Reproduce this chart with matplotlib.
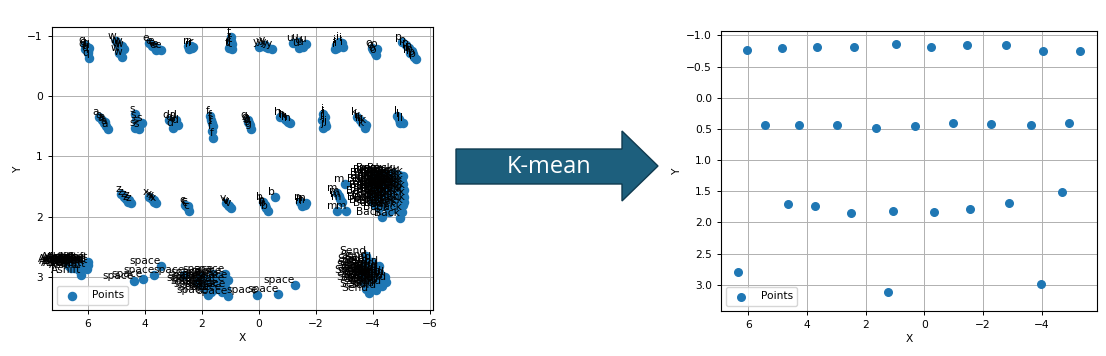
import matplotlib
matplotlib.use("Agg")
import matplotlib.pyplot as plt
from matplotlib.patches import Polygon

# ---------------- raw keystroke points (left panel) ----------------
top_row_points = [
    ("q", 6.1, -0.85), ("q", 6.05, -0.82), ("q", 5.95, -0.80), ("q", 6.0, -0.72), ("q", 5.95, -0.64), ("q", 6.1, -0.78), ("q", 6.0, -0.75),
    ("w", 5.0, -0.92), ("w", 4.95, -0.85), ("w", 4.85, -0.80), ("w", 4.9, -0.72), ("w", 4.8, -0.65), ("w", 4.8, -0.83), ("w", 4.75, -0.78),
    ("e", 3.85, -0.88), ("e", 3.75, -0.84), ("e", 3.65, -0.80), ("e", 3.55, -0.78), ("e", 3.45, -0.77), ("e", 3.7, -0.83), ("e", 3.6, -0.77),
    ("r", 2.5, -0.84), ("r", 2.4, -0.83), ("r", 2.35, -0.80), ("r", 2.3, -0.82), ("r", 2.45, -0.79),
    ("t", 1.0, -0.98), ("t", 0.98, -0.92), ("t", 0.95, -0.86), ("t", 1.02, -0.82), ("t", 0.95, -0.78), ("t", 1.05, -0.80),
    ("y", 0.0, -0.82), ("y", -0.1, -0.84), ("y", -0.2, -0.85), ("y", -0.3, -0.80), ("y", -0.45, -0.79), ("y", -0.25, -0.82),
    ("u", -1.2, -0.88), ("u", -1.35, -0.90), ("u", -1.45, -0.85), ("u", -1.55, -0.82), ("u", -1.65, -0.87), ("u", -1.4, -0.80),
    ("i", -2.65, -0.78), ("i", -2.7, -0.85), ("i", -2.8, -0.90), ("i", -2.9, -0.88), ("i", -2.95, -0.82), ("i", -2.75, -0.80),
    ("o", -3.95, -0.80), ("o", -4.0, -0.76), ("o", -4.05, -0.72), ("o", -4.1, -0.68), ("o", -4.15, -0.78),
    ("p", -5.0, -0.90), ("p", -5.15, -0.85), ("p", -5.25, -0.80), ("p", -5.35, -0.75), ("p", -5.4, -0.70), ("p", -5.5, -0.62), ("p", -5.45, -0.66), ("p", -5.3, -0.72),
]

home_row_points = [
    ("a", 5.6, 0.35), ("a", 5.5, 0.40), ("a", 5.45, 0.45), ("a", 5.35, 0.50), ("a", 5.3, 0.55), ("a", 5.4, 0.42),
    ("s", 4.35, 0.30), ("s", 4.3, 0.40), ("s", 4.25, 0.48), ("s", 4.35, 0.52), ("s", 4.1, 0.45), ("s", 4.2, 0.55),
    ("d", 3.15, 0.40), ("d", 3.05, 0.42), ("d", 2.95, 0.45), ("d", 2.85, 0.48), ("d", 3.0, 0.52), ("d", 2.9, 0.40),
    ("f", 1.72, 0.32), ("f", 1.68, 0.40), ("f", 1.65, 0.45), ("f", 1.62, 0.50), ("f", 1.65, 0.58), ("f", 1.6, 0.70),
    ("g", 0.4, 0.40), ("g", 0.35, 0.45), ("g", 0.3, 0.48), ("g", 0.28, 0.55), ("g", 0.38, 0.42),
    ("h", -0.75, 0.35), ("h", -0.9, 0.38), ("h", -1.0, 0.42), ("h", -1.1, 0.45), ("h", -0.95, 0.40),
    ("j", -2.25, 0.30), ("j", -2.3, 0.35), ("j", -2.2, 0.40), ("j", -2.3, 0.45), ("j", -2.25, 0.52), ("j", -2.35, 0.50),
    ("k", -3.45, 0.35), ("k", -3.55, 0.40), ("k", -3.65, 0.45), ("k", -3.75, 0.48), ("k", -3.7, 0.52), ("k", -3.6, 0.44),
    ("l", -4.85, 0.33), ("l", -4.9, 0.38), ("l", -4.95, 0.42), ("l", -5.05, 0.45), ("l", -4.95, 0.45),
]

bottom_row_points = [
    ("z", 4.85, 1.63), ("z", 4.75, 1.67), ("z", 4.65, 1.70), ("z", 4.55, 1.72), ("z", 4.5, 1.78), ("z", 4.6, 1.75),
    ("x", 3.85, 1.68), ("x", 3.75, 1.70), ("x", 3.7, 1.75), ("x", 3.6, 1.78), ("x", 3.7, 1.72),
    ("c", 2.6, 1.80), ("c", 2.55, 1.83), ("c", 2.5, 1.86), ("c", 2.45, 1.90), ("c", 2.5, 1.82),
    ("v", 1.15, 1.78), ("v", 1.1, 1.80), ("v", 1.05, 1.83), ("v", 1.0, 1.86), ("v", 1.05, 1.82),
    ("b", -0.15, 1.75), ("b", -0.2, 1.80), ("b", -0.25, 1.85), ("b", -0.3, 1.90), ("b", -0.55, 1.68), ("b", -0.2, 1.82),
    ("n", -1.45, 1.75), ("n", -1.55, 1.78), ("n", -1.6, 1.80), ("n", -1.5, 1.82), ("n", -1.65, 1.78),
    ("m", -3.0, 1.45), ("m", -2.75, 1.60), ("m", -2.8, 1.65), ("m", -2.85, 1.70), ("m", -2.75, 1.90), ("m", -3.05, 1.90), ("m", -2.9, 1.75),
]

back_x = [-4.0, -4.1, -4.2, -4.3, -4.4, -4.5, -4.6, -4.7, -4.8, -4.9, -5.0, -5.05,
          -4.05, -4.15, -4.25, -4.35, -4.45, -4.55, -4.65, -4.75, -4.85, -4.95, -5.1,
          -3.95, -4.1, -4.2, -4.3, -4.4, -4.5, -4.6, -4.7, -4.8, -4.9, -5.0, -5.1,
          -4.0, -4.15, -4.3, -4.45, -4.6, -4.75, -4.9, -5.05,
          -4.2, -4.4, -4.6, -4.8, -5.0, -4.3, -4.95,
          -4.85, -4.95, -5.0, -4.9, -5.05, -4.7, -4.8,
          -4.25, -4.45, -4.65, -4.85, -5.05, -4.35, -4.55, -4.75, -4.95, -4.1,
          -4.3, -4.5, -4.7, -4.9, -4.05, -4.25, -4.65, -4.85, -5.1, -4.55]
back_y = [1.45, 1.35, 1.30, 1.28, 1.30, 1.32, 1.30, 1.28, 1.30, 1.35, 1.40, 1.45,
          1.55, 1.50, 1.45, 1.42, 1.45, 1.40, 1.42, 1.45, 1.42, 1.50, 1.55,
          1.65, 1.62, 1.60, 1.58, 1.55, 1.52, 1.55, 1.58, 1.55, 1.60, 1.62, 1.68,
          1.75, 1.72, 1.70, 1.68, 1.70, 1.72, 1.75, 1.80,
          1.85, 1.82, 1.85, 1.88, 1.92, 2.00, 2.02,
          1.38, 1.45, 1.52, 1.30, 1.62, 1.48, 1.50,
          1.36, 1.37, 1.35, 1.47, 1.33, 1.50, 1.48, 1.52, 1.57, 1.40,
          1.64, 1.62, 1.66, 1.68, 1.80, 1.78, 1.78, 1.82, 1.75, 1.92]

send_x = [-3.75, -3.8, -3.7, -3.85, -3.95, -4.05, -3.65, -3.75, -3.9, -4.0, -4.1, -4.2,
          -3.6, -3.7, -3.85, -3.95, -4.05, -4.15, -4.25, -4.35, -4.45, -3.65, -3.8, -3.9,
          -4.0, -4.1, -4.2, -4.3, -3.75, -4.1, -3.85, -4.2, -3.95,
          -3.7, -3.8, -4.0, -4.15, -4.3, -3.9, -4.05, -4.2, -4.4]
send_y = [2.65, 2.72, 2.78, 2.80, 2.82, 2.85, 2.88, 2.90, 2.92, 2.95, 2.95, 2.92,
          2.97, 3.00, 3.00, 3.02, 3.05, 3.00, 3.02, 3.05, 3.08, 3.08, 3.10, 3.12,
          3.10, 3.15, 3.12, 3.15, 3.20, 3.22, 3.27, 2.82, 2.75,
          2.85, 2.95, 3.00, 2.88, 2.98, 3.05, 3.18, 3.05, 3.00]

shift_x = [6.6, 6.55, 6.5, 6.45, 6.4, 6.35, 6.3, 6.25, 6.2, 6.15, 6.1, 6.05, 6.0,
           6.05, 6.25, 6.5, 6.6, 6.4, 6.3, 6.0, 6.7, 6.65]
shift_y = [2.75, 2.78, 2.80, 2.77, 2.82, 2.75, 2.80, 2.78, 2.85, 2.80, 2.82, 2.78, 2.80,
           2.87, 2.97, 2.85, 2.85, 2.75, 2.88, 2.75, 2.78, 2.82]

space_x = [3.43, 3.67, 4.08, 4.39, 2.62,
           2.1, 2.0, 1.9, 1.8, 1.7, 1.6, 1.5, 1.4, 1.3, 1.2, 1.15, 1.1, 1.2, 1.7, 1.9,
           2.0, 1.8, 1.5, 1.1, 1.6, 1.4, 1.3, 2.15,
           0.06, -0.68, -1.26]
space_y = [2.82, 2.97, 3.04, 3.07, 2.97,
           3.05, 3.00, 3.10, 3.05, 3.15, 3.00, 3.10, 3.05, 2.98, 3.10, 3.20, 3.05, 2.95, 3.25, 3.20,
           3.15, 3.30, 3.20, 3.32, 2.95, 3.18, 3.25, 3.10,
           3.30, 3.29, 3.13]

# ---------------- K-means centroids (right panel) ----------------
centroid_x = [6.03, 4.86, 3.66, 2.40, 0.98, -0.24, -1.45, -2.80, -4.05, -5.31,
              5.43, 4.28, 2.99, 1.66, 0.33, -0.99, -2.28, -3.63, -4.94,
              6.35, 4.65, 3.72, 2.51, 1.06, -0.34, -1.56, -2.88, -4.69, 1.23, -3.99]
centroid_y = [-0.765, -0.79, -0.81, -0.82, -0.86, -0.82, -0.85, -0.84, -0.75, -0.75,
              0.444, 0.444, 0.444, 0.49, 0.455, 0.406, 0.417, 0.444, 0.406,
              2.80, 1.71, 1.73, 1.85, 1.82, 1.84, 1.79, 1.69, 1.51, 3.12, 2.98]

arrow_text = "K-mean"

# ---------------- assemble raw data ----------------
labels, xs, ys = [], [], []
for group in (top_row_points, home_row_points, bottom_row_points):
    for lab, x, y in group:
        labels.append(lab); xs.append(x); ys.append(y)
for lab, gx, gy in (("Back", back_x, back_y), ("Send", send_x, send_y),
                    ("Ashift", shift_x, shift_y), ("space", space_x, space_y)):
    for x, y in zip(gx, gy):
        labels.append(lab); xs.append(x); ys.append(y)

W, H = 1106, 356
fig = plt.figure(figsize=(W / 100, H / 100), dpi=100)
fs = 7.7
plt.rcParams['font.family'] = ['DejaVu Sans']

def px_axes(l, t, r, b):
    return [l / W, 1 - b / H, (r - l) / W, (b - t) / H]

# Left panel
ax1 = fig.add_axes(px_axes(52, 27, 433, 310))
ax1.scatter(xs, ys, s=34, color="#1f77b4", label="Points", zorder=2)
for lab, x, y in zip(labels, xs, ys):
    ax1.text(x, y, lab, ha="right", va="bottom", fontsize=fs, color="black", zorder=3)
ax1.set_xlim(7.26, -6.1)
ax1.set_ylim(3.55, -1.15)
ax1.set_xticks([6, 4, 2, 0, -2, -4, -6])
ax1.set_yticks([-1, 0, 1, 2, 3])
ax1.grid(True, color="#b0b0b0", linewidth=0.7)
ax1.set_axisbelow(True)
ax1.set_xlabel("X", fontsize=fs, labelpad=3)
ax1.set_ylabel("Y", fontsize=fs, labelpad=3)
ax1.tick_params(labelsize=fs, width=0.7, length=3)
ax1.legend(loc="lower left", fontsize=fs)
for sp in ax1.spines.values():
    sp.set_linewidth(0.8)

# Right panel
ax2 = fig.add_axes(px_axes(721, 31, 1097, 311))
ax2.scatter(centroid_x, centroid_y, s=30, color="#1f77b4", label="Points", zorder=2)
ax2.set_xlim(6.93, -5.89)
ax2.set_ylim(3.42, -1.07)
ax2.set_xticks([6, 4, 2, 0, -2, -4])
ax2.set_yticks([-1.0, -0.5, 0.0, 0.5, 1.0, 1.5, 2.0, 2.5, 3.0])
ax2.grid(True, color="#b0b0b0", linewidth=0.7)
ax2.set_axisbelow(True)
ax2.set_xlabel("X", fontsize=fs, labelpad=3)
ax2.set_ylabel("Y", fontsize=fs, labelpad=3)
ax2.tick_params(labelsize=fs, width=0.7, length=3)
ax2.legend(loc="lower left", fontsize=fs)
for sp in ax2.spines.values():
    sp.set_linewidth(0.8)

# Arrow
arrow_px = [(456, 149), (622, 149), (622, 131), (658, 166), (622, 201), (622, 184), (456, 184)]
arrow_fig = [(x / W, 1 - y / H) for x, y in arrow_px]
fig.patches.append(Polygon(arrow_fig, closed=True, transform=fig.transFigure,
                           facecolor="#1d5f7d", edgecolor="#0f3a4f", linewidth=1.0))
fig.text(549 / W, 1 - 166.5 / H, arrow_text, color="white", fontsize=17,
         family="Open Sans", ha="center", va="center")

fig.savefig("out.png", dpi=100)
